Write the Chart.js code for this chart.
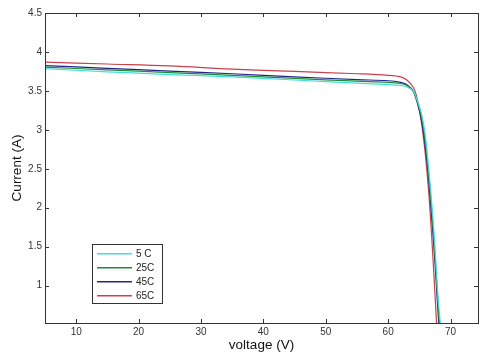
<!DOCTYPE html>
<html>
<head>
<meta charset="utf-8">
<script src="https://cdn.jsdelivr.net/npm/chart.js@4/dist/chart.umd.min.js"></script>
<style>
  html, body { margin: 0; padding: 0; background: #fff; }
  #wrap { width: 481px; height: 358px; }
</style>
</head>
<body>
<div id="wrap"><canvas id="ivChart"></canvas></div>
<script>
// I-V curves of the panel at four temperatures
const labels = ['5 C', '25C', '45C', '65C'];
const colors = ['#40dede', '#1f8a3a', '#24248a', '#c8424c'];

const v5  = [5, 15, 25, 35, 45, 55, 60, 62, 63, 64, 65, 65.5, 66, 66.5, 67, 67.5, 68, 68.5];
const i5  = [3.785, 3.745, 3.71, 3.68, 3.64, 3.60, 3.58, 3.57, 3.55, 3.50, 3.30, 3.15, 2.90, 2.50, 2.05, 1.50, 0.85, 0.40];

const v25 = [5, 15, 25, 35, 45, 55, 60, 62, 63, 64, 65, 65.5, 66, 66.5, 67, 67.5, 68, 68.4];
const i25 = [3.805, 3.77, 3.735, 3.70, 3.66, 3.625, 3.61, 3.595, 3.57, 3.50, 3.28, 3.10, 2.82, 2.42, 1.95, 1.40, 0.75, 0.35];

const v45 = [5, 15, 25, 35, 45, 55, 60, 62, 63, 64, 65, 65.5, 66, 66.5, 67, 67.5, 68, 68.3];
const i45 = [3.825, 3.79, 3.755, 3.72, 3.68, 3.645, 3.63, 3.61, 3.58, 3.50, 3.25, 3.05, 2.75, 2.35, 1.85, 1.30, 0.65, 0.30];

const v65 = [5, 15, 25, 35, 45, 55, 60, 62, 63, 64, 64.5, 65, 65.5, 66, 66.5, 67, 67.5, 67.8];
const i65 = [3.87, 3.845, 3.82, 3.78, 3.75, 3.72, 3.70, 3.68, 3.64, 3.55, 3.45, 3.25, 3.00, 2.65, 2.20, 1.60, 0.90, 0.45];

const xTicks = [10, 20, 30, 40, 50, 60, 70];
const yTicks = [1, 1.5, 2, 2.5, 3, 3.5, 4, 4.5];

const voltages = [v5, v25, v45, v65];
const currents = [i5, i25, i45, i65];

const FONT = '"Liberation Sans", Arial, sans-serif';

function toPoints(xs, ys) {
    return xs.map((x, k) => ({ x: x, y: ys[k] }));
}

// box around the plot + inward ticks on all four sides (matlab look)
const frameTicks = {
    id: 'frameTicks',
    afterDraw(chart) {
        const ctx = chart.ctx;
        const a = chart.chartArea;
        const xs = chart.scales.x, ys = chart.scales.y;
        const len = 4;
        ctx.save();
        ctx.strokeStyle = '#333';
        ctx.lineWidth = 1;
        ctx.beginPath();
        xTicks.forEach(v => {
            const px = Math.round(xs.getPixelForValue(v)) + 0.5;
            ctx.moveTo(px, a.bottom); ctx.lineTo(px, a.bottom - len);
            ctx.moveTo(px, a.top); ctx.lineTo(px, a.top + len);
        });
        yTicks.forEach(v => {
            const py = Math.round(ys.getPixelForValue(v)) + 0.5;
            ctx.moveTo(a.left, py); ctx.lineTo(a.left + len, py);
            ctx.moveTo(a.right, py); ctx.lineTo(a.right - len, py);
        });
        ctx.stroke();
        ctx.strokeRect(Math.round(a.left) + 0.5, Math.round(a.top) + 0.5,
                       Math.round(a.right - a.left), Math.round(a.bottom - a.top));
        ctx.restore();
    }
};

// legend box drawn inside the lower left of the plot
const insideLegend = {
    id: 'insideLegend',
    afterDraw(chart) {
        const ctx = chart.ctx;
        const a = chart.chartArea;
        const w = 70, h = 59;
        const x0 = Math.round(a.left + 47), y0 = Math.round(a.bottom - 20 - h);
        ctx.save();
        ctx.fillStyle = '#fff';
        ctx.fillRect(x0, y0, w, h);
        ctx.strokeStyle = '#333';
        ctx.lineWidth = 1;
        ctx.strokeRect(x0 + 0.5, y0 + 0.5, w, h);
        ctx.font = '10px ' + FONT;
        ctx.textBaseline = 'middle';
        labels.forEach((name, k) => {
            const y = y0 + 9 + k * 14;
            ctx.fillStyle = colors[k];
            ctx.fillRect(x0 + 5, y, 35, 1.5);
            ctx.fillStyle = '#222';
            ctx.fillText(name, x0 + 44, y + 1);
        });
        ctx.restore();
    }
};

const ctx = document.getElementById('ivChart').getContext('2d');
new Chart(ctx, {
    type: 'line',
    data: {
        datasets: labels.map((name, k) => ({
            label: name,
            data: toPoints(voltages[k], currents[k]),
            borderColor: colors[k],
            borderWidth: 1.2,
            pointRadius: 0,
            tension: 0.35,
            fill: false
        }))
    },
    options: {
        responsive: true,
        maintainAspectRatio: false,
        animation: false,
        layout: { padding: { top: 13, right: 3, left: 0, bottom: 0 } },
        plugins: {
            legend: { display: false },
            tooltip: { enabled: false }
        },
        scales: {
            x: {
                type: 'linear',
                min: 5,
                max: 74.4,
                afterBuildTicks: s => { s.ticks = xTicks.map(v => ({ value: v })); },
                afterFit: s => { s.height = 35; },
                grid: { display: false, drawTicks: false },
                border: { display: false },
                ticks: {
                    color: '#333',
                    font: { size: 10, family: FONT },
                    padding: 3,
                    maxRotation: 0
                },
                title: {
                    display: true,
                    text: 'voltage (V)',
                    color: '#111',
                    font: { size: 13.5, family: FONT },
                    padding: { top: 0, bottom: 5 }
                }
            },
            y: {
                type: 'linear',
                min: 0.52,
                max: 4.5,
                afterBuildTicks: s => { s.ticks = yTicks.map(v => ({ value: v })); },
                afterFit: s => { s.width = 45; },
                grid: { display: false, drawTicks: false },
                border: { display: false },
                ticks: {
                    color: '#333',
                    font: { size: 10, family: FONT },
                    padding: 3,
                    callback: v => String(v)
                },
                title: {
                    display: true,
                    text: 'Current (A)',
                    color: '#111',
                    font: { size: 13.5, family: FONT },
                    padding: { top: 9, bottom: 0 }
                }
            }
        }
    },
    plugins: [frameTicks, insideLegend]
});
</script>
</body>
</html>
